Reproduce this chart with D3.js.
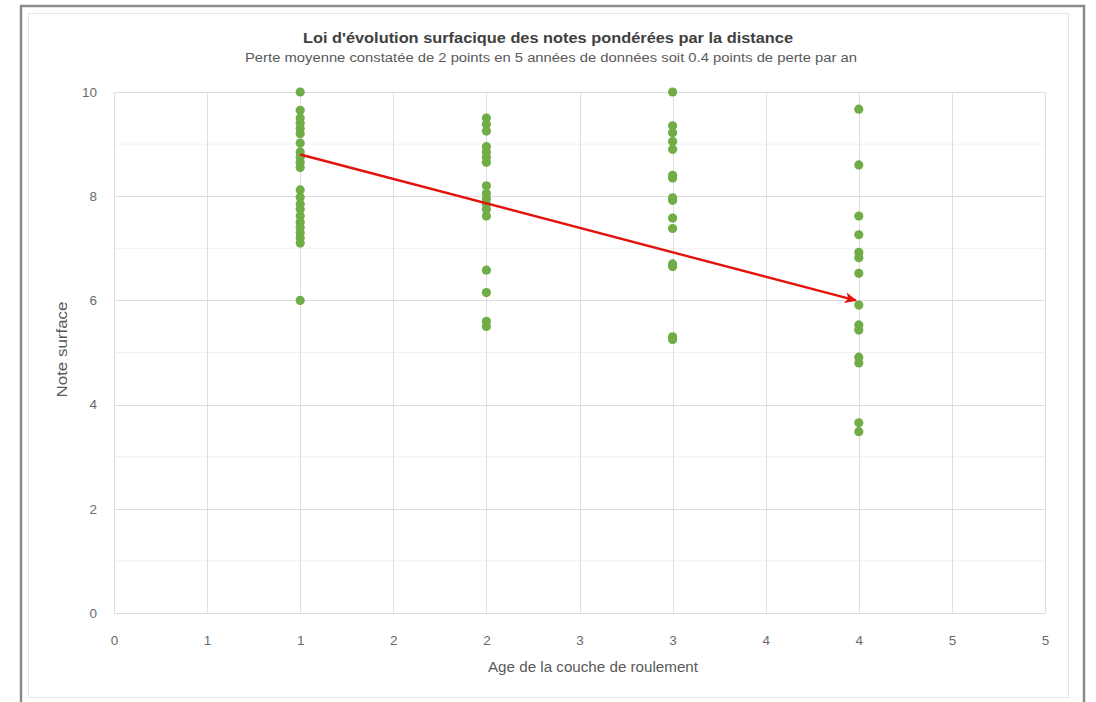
<!DOCTYPE html>
<html><head><meta charset="utf-8">
<script src="https://cdn.jsdelivr.net/npm/d3@7"></script>
<style>body{margin:0;background:#fff}svg{display:block}</style>
</head><body>
<svg id="c" width="1096" height="702"></svg>
<script>
// ---- data ----
const ages = [1, 2, 3, 4];
const notes1 = [10.0, 9.65, 9.5, 9.4, 9.3, 9.2, 9.02, 8.85, 8.75, 8.65, 8.55, 8.12, 7.98, 7.85, 7.75, 7.62, 7.5, 7.4, 7.3, 7.2, 7.1, 6.0];
const notes2 = [9.5, 9.38, 9.25, 8.95, 8.85, 8.75, 8.65, 8.2, 8.05, 7.95, 7.85, 7.75, 7.62, 6.58, 6.15, 5.6, 5.5];
const notes3 = [10.0, 9.35, 9.22, 9.05, 8.9, 8.4, 8.35, 7.97, 7.92, 7.58, 7.38, 6.7, 6.65, 5.3, 5.25];
const notes4 = [9.67, 8.6, 7.62, 7.26, 6.92, 6.82, 6.52, 5.91, 5.53, 5.43, 4.91, 4.8, 3.65, 3.48];
const xTickValues = [0, 0.5, 1, 1.5, 2, 2.5, 3, 3.5, 4, 4.5, 5];
const xTickLabels = ["0", "1", "1", "2", "2", "3", "3", "4", "4", "5", "5"];
const yTickValues = [0, 2, 4, 6, 8, 10];
const yMinorValues = [1, 3, 5, 7, 9];
const trendStart = [1, 8.8];
const trendEnd = [4, 6.0];
const title = "Loi d'évolution surfacique des notes pondérées par la distance";
const subtitle = "Perte moyenne constatée de 2 points en 5 années de données soit 0.4 points de perte par an";
const xTitle = "Age de la couche de roulement";
const yTitle = "Note surface";

const svg = d3.select("#c");
const font = "Liberation Sans, Arial, sans-serif";

// frame
svg.append("rect").attr("x", 21).attr("y", 6).attr("width", 1063).attr("height", 720)
  .attr("fill", "#fff").attr("stroke", "#8a8a8a").attr("stroke-width", 2.5);
svg.append("rect").attr("x", 28.5).attr("y", 13.5).attr("width", 1040).attr("height", 684)
  .attr("fill", "#fff").attr("stroke", "#e6e6e6").attr("stroke-width", 1);

const x = d3.scaleLinear().domain([0, 5]).range([114, 1045]);
const y = d3.scaleLinear().domain([0, 10]).range([613, 92]);

// gridlines
const g = svg.append("g");
g.selectAll(".ymin").data(yMinorValues).join("line")
  .attr("x1", x(0)).attr("x2", x(5)).attr("y1", d => y(d)).attr("y2", d => y(d))
  .attr("stroke", "#f0f0f0").attr("stroke-width", 1);
g.selectAll(".xg").data(xTickValues).join("line")
  .attr("x1", d => Math.round(x(d)) + 0.5).attr("x2", d => Math.round(x(d)) + 0.5)
  .attr("y1", y(0)).attr("y2", y(10))
  .attr("stroke", "#dedede").attr("stroke-width", 1);
g.selectAll(".yg").data(yTickValues).join("line")
  .attr("x1", x(0)).attr("x2", x(5)).attr("y1", d => Math.round(y(d)) + 0.5).attr("y2", d => Math.round(y(d)) + 0.5)
  .attr("stroke", "#dcdcdc").attr("stroke-width", 1);

// axes (labels only)
const xAxis = d3.axisBottom(x).tickValues(xTickValues).tickFormat((d, i) => xTickLabels[i]).tickSize(0).tickPadding(0);
const ax = svg.append("g").attr("transform", `translate(0,${y(0) + 22})`).call(xAxis);
ax.select(".domain").remove();
ax.selectAll("text").attr("fill", "#6a6a6a").attr("font-size", 13.5).attr("font-family", font);

const yAxis = d3.axisLeft(y).tickValues(yTickValues).tickSize(0).tickPadding(0);
const ay = svg.append("g").attr("transform", `translate(${x(0) - 17},0)`).call(yAxis);
ay.select(".domain").remove();
ay.selectAll("text").attr("fill", "#6a6a6a").attr("font-size", 13.5).attr("font-family", font);

// points
const series = [notes1, notes2, notes3, notes4];
const pts = [];
series.forEach((arr, i) => arr.forEach(v => pts.push({ x: ages[i], y: v })));
svg.append("g").selectAll("circle").data(pts).join("circle")
  .attr("cx", d => x(d.x)).attr("cy", d => y(d.y)).attr("r", 4.6)
  .attr("fill", "#70ad47");

// arrow
svg.append("defs").append("marker").attr("id", "arr")
  .attr("viewBox", "0 0 10 10").attr("refX", 9).attr("refY", 5)
  .attr("markerWidth", 5).attr("markerHeight", 5).attr("orient", "auto")
  .attr("markerUnits", "strokeWidth")
  .append("path").attr("d", "M0,0.5 L10,5 L0,9.5 L2.5,5 Z").attr("fill", "#e3120b");
svg.append("line")
  .attr("x1", x(trendStart[0])).attr("y1", y(trendStart[1]))
  .attr("x2", x(trendEnd[0]) - 3).attr("y2", y(trendEnd[1]))
  .attr("stroke", "#e3120b").attr("stroke-width", 2.4)
  .attr("marker-end", "url(#arr)");

// titles
svg.append("text").attr("x", 548).attr("y", 43).attr("text-anchor", "middle")
  .attr("font-family", font).attr("font-weight", "bold").attr("font-size", 14.5).attr("fill", "#404040")
  .attr("textLength", 490).attr("lengthAdjust", "spacingAndGlyphs").text(title);
svg.append("text").attr("x", 551).attr("y", 62).attr("text-anchor", "middle")
  .attr("font-family", font).attr("font-size", 12).attr("fill", "#595959")
  .attr("textLength", 612).attr("lengthAdjust", "spacingAndGlyphs").text(subtitle);
svg.append("text").attr("x", 593).attr("y", 672).attr("text-anchor", "middle")
  .attr("font-family", font).attr("font-size", 14).attr("fill", "#595959")
  .attr("textLength", 210).attr("lengthAdjust", "spacingAndGlyphs").text(xTitle);
svg.append("text").attr("transform", `translate(67,${y(5) - 3}) rotate(-90)`).attr("text-anchor", "middle")
  .attr("font-family", font).attr("font-size", 14).attr("fill", "#595959")
  .attr("textLength", 96).attr("lengthAdjust", "spacingAndGlyphs").text(yTitle);
</script>
</body></html>
